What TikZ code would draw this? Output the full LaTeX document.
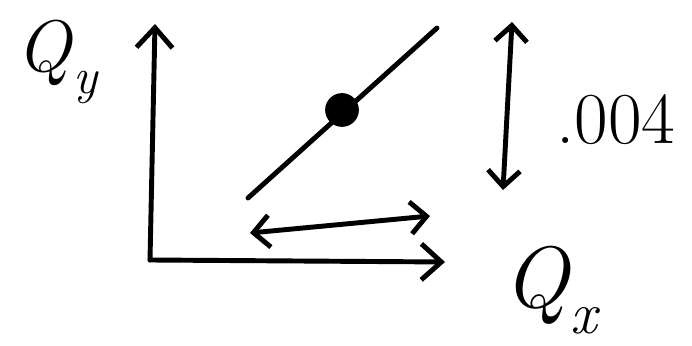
\documentclass[tikz,border=0pt]{standalone}
\usepackage{tikz}
\usetikzlibrary{arrows.meta,positioning,calc}

\begin{document}
\begin{tikzpicture}[
    x=0.025cm, y=-0.025cm,
    pen/.style={line width=3.5pt, line cap=round, line join=round},
    axis/.style={pen, -{Straight Barb[length=5mm, width=9mm, line width=3.5pt]}},
    span/.style={pen, {Straight Barb[length=4mm, width=8mm, line width=3.5pt]}-{Straight Barb[length=4mm, width=8mm, line width=3.5pt]}},
    label/.style={inner sep=0pt}
]
    \useasboundingbox (0,0) rectangle (692,346);

    % axes
    \coordinate (origin) at (150,260);
    \coordinate (ytop) at (155,24);
    \coordinate (xend) at (445,262);
    \draw[axis] (origin) -- (ytop);
    \draw[axis] (origin) -- (xend);

    \node[label] (qy) at (58,62) {\fontsize{52}{54}\selectfont\textit{Q}\raisebox{-0.3em}{\fontsize{36}{36}\selectfont\textit{y}}};
    \node[label] (qx) at (552,290) {\fontsize{62}{64}\selectfont\textit{Q}\raisebox{-0.3em}{\fontsize{42}{42}\selectfont\textit{x}}};

    % diagonal line with the point
    \coordinate (lineA) at (248,198);
    \coordinate (lineB) at (437,28);
    \draw[pen] (lineA) -- (lineB);
    \node[circle, fill, inner sep=0pt, minimum size=24] (pt) at (342,110) {};

    % spans
    \coordinate (hspanL) at (250,233);
    \coordinate (hspanR) at (430,216);
    \draw[span] (hspanL) -- (hspanR);

    \coordinate (vspanT) at (512,22);
    \coordinate (vspanB) at (503,190);
    \draw[span] (vspanT) -- (vspanB);

    \node[label] (dy) at (616,120) {\fontsize{52}{54}\selectfont .004};
\end{tikzpicture}
\end{document}
